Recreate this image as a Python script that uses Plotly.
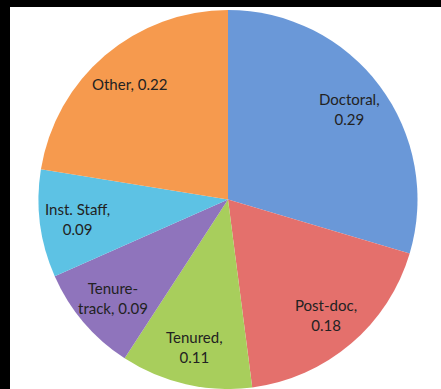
import math
import plotly.graph_objects as go

categories = ["Doctoral", "Post-doc", "Tenured", "Tenure-track", "Inst. Staff", "Other"]
values = [0.29, 0.18, 0.11, 0.09, 0.09, 0.22]
label_text = ["Doctoral,<br>0.29", "Post-doc,<br>0.18", "Tenured,<br>0.11",
              "Tenure-<br>track, 0.09", "Inst. Staff,<br>0.09", "Other, 0.22"]
colors = ["#6A98D8", "#E4706C", "#A8CE5C", "#8F74BC", "#5DC2E4", "#F69A4E"]

W, H = 441, 389
cx, cy, r = 228, 199.5, 189.5
label_frac = 0.8

fig = go.Figure(go.Pie(
    labels=categories, values=values,
    textinfo="none",
    sort=False, direction="clockwise", rotation=0,
    marker=dict(colors=colors, line=dict(color="white", width=0)),
    domain=dict(x=[(cx - r) / W, (cx + r) / W], y=[0, 1 - (cy - r) / H]),
    showlegend=False, hoverinfo="label+value",
))

# label positions derived from slice mid-angles (clockwise from 12 o'clock)
total = sum(values)
annotations = []
cum = 0.0
for v, t in zip(values, label_text):
    mid = (cum + v / 2) / total * 2 * math.pi
    cum += v
    px = cx + label_frac * r * math.sin(mid)
    py = cy - label_frac * r * math.cos(mid)
    annotations.append(dict(x=px / W, y=1 - py / H, xref="paper", yref="paper",
                            xanchor="center", yanchor="middle",
                            text=t, showarrow=False, align="center",
                            font=dict(family="Lato", size=15, color="#222222")))

fig.update_layout(
    width=W, height=H, margin=dict(l=0, r=0, t=0, b=0),
    paper_bgcolor="black",
    annotations=annotations,
    shapes=[dict(type="rect", xref="paper", yref="paper", x0=10 / W, x1=1, y0=0, y1=1 - 7 / H,
                 fillcolor="white", line=dict(width=0), layer="below")],
)

fig.write_html("out.html")
